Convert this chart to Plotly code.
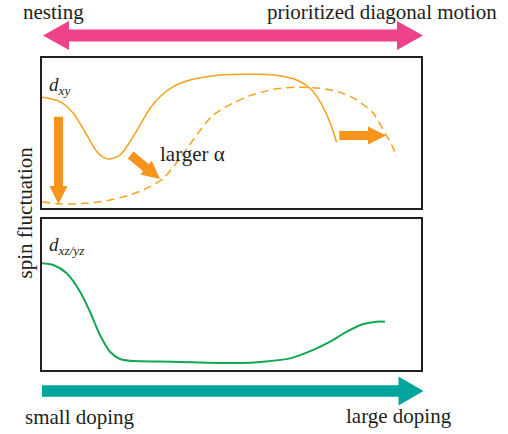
import math
import plotly.graph_objects as go

W, H = 508, 434

# ---------------- data (doping in %, spin fluctuation in % of panel) ----------------
dxy_doping = [0, 4.75, 8.26, 11.79, 14.85, 17.49, 20.58, 23.22, 25.86, 28.50, 31.13,
              34.64, 39.05, 45.20, 52.24, 56.65, 62.80, 67.20, 70.71, 73.35, 75.54,
              76.86, 77.76]
dxy_fluct = [73.8, 70.9, 63.1, 48.7, 36.5, 32.7, 35.3, 44.2, 55.3, 66.5, 74.2,
             80.9, 85.3, 88.2, 89.1, 89.1, 88.2, 85.3, 79.8, 70.9, 59.8,
             50.9, 43.8]

dxy_alpha_doping = [0, 4.75, 10.90, 17.07, 23.22, 28.50, 32.00, 36.41, 40.82, 45.20,
                    50.47, 54.88, 61.03, 67.20, 73.35, 78.63, 83.03, 87.41, 90.50,
                    92.27, 93.59]
dxy_alpha_fluct = [4.2, 2.7, 3.1, 4.9, 8.7, 14.2, 19.8, 33.1, 48.7, 62.0,
                   70.0, 74.9, 79.1, 80.5, 79.8, 77.1, 72.0, 63.1, 49.8,
                   42.0, 34.2]

dxz_doping = [0, 2.98, 6.52, 10.03, 12.66, 15.30, 17.94, 20.58, 23.22, 34.64, 52.24,
              58.39, 65.44, 71.58, 76.02, 80.42, 84.78, 88.31, 90.50]
dxz_fluct = [70.6, 69.4, 63.9, 51.7, 38.4, 22.9, 11.8, 7.0, 5.8, 5.2, 4.3,
             5.2, 7.4, 13.0, 18.5, 25.1, 30.2, 31.8, 31.8]

# orange "shift" arrows (tail -> tip) in data coordinates of the top panel
shift_arrows = [((4.35, 60.9), (4.35, 2.7)),
                ((23.40, 35.3), (31.13, 19.3)),
                ((78.44, 48.3), (90.77, 48.3))]

# ---------------- layout geometry (pixels) ----------------
X0, X1 = 42, 421
TOP = (58, 208)
BOT = (219, 369.5)

ORANGE_LINE = "#F6A11C"
ORANGE_ARROW = "#F7941E"
GREEN = "#14A753"
PINK = "#EE4389"
TEAL = "#00A59E"
INK = "#231F20"
FONT = "'Liberation Serif', 'DejaVu Serif', 'Times New Roman', serif"


def px_to_paper(px, py):
    return px / W, 1 - py / H


def data_to_px(x, y, panel):
    ytop, ybot = panel
    return X0 + (X1 - X0) * x / 100.0, ybot - (ybot - ytop) * y / 100.0


def poly_path(pts):
    s = ""
    for i, (px, py) in enumerate(pts):
        X, Y = px_to_paper(px, py)
        s += ("M" if i == 0 else "L") + f"{X:.5f},{Y:.5f} "
    return s + "Z"


def arrow_pts(x0, y0, x1, y1, sw, hl, hw, double=False):
    dx, dy = x1 - x0, y1 - y0
    L = math.hypot(dx, dy)
    ux, uy = dx / L, dy / L
    nx, ny = -uy, ux
    bx, by = x1 - ux * hl, y1 - uy * hl
    if not double:
        return [(x0 + nx * sw / 2, y0 + ny * sw / 2),
                (bx + nx * sw / 2, by + ny * sw / 2),
                (bx + nx * hw / 2, by + ny * hw / 2),
                (x1, y1),
                (bx - nx * hw / 2, by - ny * hw / 2),
                (bx - nx * sw / 2, by - ny * sw / 2),
                (x0 - nx * sw / 2, y0 - ny * sw / 2)]
    ax, ay = x0 + ux * hl, y0 + uy * hl
    return [(x0, y0),
            (ax + nx * hw / 2, ay + ny * hw / 2),
            (ax + nx * sw / 2, ay + ny * sw / 2),
            (bx + nx * sw / 2, by + ny * sw / 2),
            (bx + nx * hw / 2, by + ny * hw / 2),
            (x1, y1),
            (bx - nx * hw / 2, by - ny * hw / 2),
            (bx - nx * sw / 2, by - ny * sw / 2),
            (ax - nx * sw / 2, ay - ny * sw / 2),
            (ax - nx * hw / 2, ay - ny * hw / 2)]


fig = go.Figure()
fig.add_trace(go.Scatter(x=dxy_doping, y=dxy_fluct, mode="lines",
                         line=dict(color=ORANGE_LINE, width=1.5, shape="spline", smoothing=0.8),
                         xaxis="x", yaxis="y", hoverinfo="skip"))
fig.add_trace(go.Scatter(x=dxy_alpha_doping, y=dxy_alpha_fluct, mode="lines",
                         line=dict(color=ORANGE_LINE, width=1.5, shape="spline", smoothing=0.8,
                                   dash="8px,5px"),
                         xaxis="x", yaxis="y", hoverinfo="skip"))
fig.add_trace(go.Scatter(x=dxz_doping, y=dxz_fluct, mode="lines",
                         line=dict(color=GREEN, width=2, shape="spline", smoothing=0.8),
                         xaxis="x2", yaxis="y2", hoverinfo="skip"))

shapes = []
# big direction arrows
shapes.append(dict(type="path", xref="paper", yref="paper", line=dict(width=0),
                   fillcolor=PINK, path=poly_path(arrow_pts(43, 35.5, 423, 35.5, 12, 26, 29, double=True))))
shapes.append(dict(type="path", xref="paper", yref="paper", line=dict(width=0),
                   fillcolor=TEAL, path=poly_path(arrow_pts(42, 391, 423.5, 391, 11.5, 25, 29))))
# orange shift arrows
for (tx, ty), (hx, hy) in shift_arrows:
    p0 = data_to_px(tx, ty, TOP)
    p1 = data_to_px(hx, hy, TOP)
    shapes.append(dict(type="path", xref="paper", yref="paper", line=dict(width=0),
                       fillcolor=ORANGE_ARROW,
                       path=poly_path(arrow_pts(p0[0], p0[1], p1[0], p1[1], 9, 18, 18))))


def ann(text, px, py, size=21, xanchor="center", yanchor="middle", angle=0):
    X, Y = px_to_paper(px, py)
    return dict(text=text, x=X, y=Y, xref="paper", yref="paper", showarrow=False,
                xanchor=xanchor, yanchor=yanchor, textangle=angle,
                font=dict(family=FONT, size=size, color=INK))


annotations = [
    ann("nesting", 53.3, 12.5),
    ann("prioritized diagonal motion", 381.7, 12),
    ann("small doping", 80.3, 416.5),
    ann("large doping", 399, 416),
    ann("larger α", 192.5, 154),
    ann("spin fluctuation", 24, 212.5, angle=-90),
    ann("<i>d</i><sub><i>xy</i></sub>", 47, 86, size=19, xanchor="left"),
    ann("<i>d</i><sub><i>xz/yz</i></sub>", 47, 246, size=19, xanchor="left"),
]

axis_common = dict(range=[0, 100], showgrid=False, zeroline=False, showticklabels=False,
                   ticks="", showline=True, mirror=True, linecolor=INK, linewidth=1.5,
                   fixedrange=True)

fig.update_layout(
    width=W, height=H, margin=dict(l=0, r=0, t=0, b=0),
    font=dict(family=FONT, color=INK),
    paper_bgcolor="white", plot_bgcolor="white", showlegend=False,
    xaxis=dict(domain=[X0 / W, X1 / W], anchor="y", **axis_common),
    yaxis=dict(domain=[1 - TOP[1] / H, 1 - TOP[0] / H], anchor="x", **axis_common),
    xaxis2=dict(domain=[X0 / W, X1 / W], anchor="y2", **axis_common),
    yaxis2=dict(domain=[1 - BOT[1] / H, 1 - BOT[0] / H], anchor="x2", **axis_common),
    shapes=shapes, annotations=annotations,
)

fig.write_html("out.html")
